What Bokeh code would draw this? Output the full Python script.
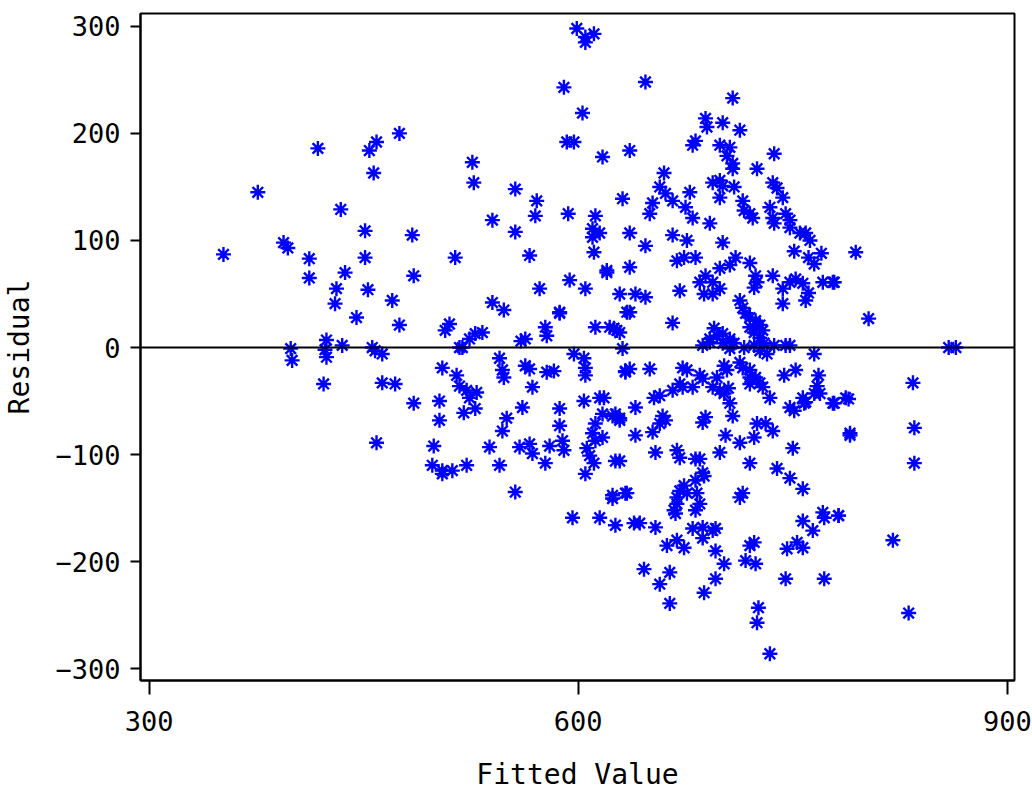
from bokeh.plotting import figure
from bokeh.models import Span, FixedTicker
from bokeh.embed import file_html
from bokeh.resources import INLINE

x_ticks = [300, 600, 900]
x_tick_labels = ["300", "600", "900"]
y_ticks = [-300, -200, -100, 0, 100, 200, 300]
y_tick_labels = ["\u2212300", "\u2212200", "\u2212100", "0", "100", "200", "300"]
x_label = "Fitted Value"
y_label = "Residual"

pts = [
    # left cluster
    (352,87),(376,145),(394,98),(397,93),(399,-1),(400,-12),(412,83),(412,65),(418,186),(424,7),(423,-2),(424,-9),(422,-34),
    (434,129),(437,70),(431,55),(430,41),(451,109),(451,84),(453,54),(470,44),(445,28),(475,21),(454,184),(459,192),(457,163),
    (475,200),(484,105),(485,67),(526,173),(527,154),(514,84),(510,22),(507,16),(524,8),(528,13),(435,2),(456,0),(458,-3),
    (463,-6),(519,0),(505,-19),(459,-89),
    (533,14),(517,0),(563,8),(560,6),(577,19),(578,11),(587,32),(612,19),(625,18),(629,14),(636,33),(463,-33),(472,-34),
    (545,-10),(547,-21),(548,-28),(515,-26),(517,-36),(522,-40),(524,-47),(529,-42),(520,-61),(528,-57),(485,-52),(503,-50),
    (503,-68),(499,-92),(566,-20),(563,-17),(578,-23),(583,-22),(568,-37),(597,-6),(604,-10),(605,-19),(605,-26),(561,-56),
    (587,-57),(604,-50),(615,-47),(633,-23),(550,-66),(587,-73),(624,-64),(629,-66),(612,-71),(610,-80),(612,-87),(617,-84),
    (606,-94),(547,-78),(538,-93),(559,-93),(566,-90),(568,-99),(580,-92),(589,-87),(590,-96),(577,-108),(608,-101),(611,-108),
    (605,-118),(629,-106),(498,-110),(505,-115),(512,-115),(505,-118),(522,-110),(545,-110),(556,-135),(624,-138),(633,-136),
    (603,219),(592,192),(597,192),(617,178),(556,148),(571,137),(570,123),(593,125),(612,123),(610,111),(615,107),(610,103),
    (611,89),(540,119),(556,108),(566,86),(620,70),(594,63),(605,55),(573,55),(540,42),(548,35),(587,33),
    (624,-141),(596,-159),(615,-159),(626,-166),
    # centre
    (674,84),(682,84),(669,81),(636,75),(620,72),(699,74),(706,77),(720,79),(710,84),(689,67),(694,61),(699,55),(724,67),
    (725,61),(723,56),(751,90),(761,84),(765,78),(770,88),(736,67),(748,61),(752,64),(757,60),(743,55),(771,61),(778,61),
    (761,51),(759,44),(743,41),(629,50),(640,50),(647,47),(634,33),(671,53),(685,61),(688,50),(694,50),(713,44),(717,32),
    (720,28),(724,25),(720,19),(727,21),(729,16),(723,14),(727,9),(715,37),(666,23),(622,19),(627,16),(695,18),(697,11),
    (692,8),(701,13),(706,8),(709,4),(701,4),(706,-1),(687,2),(692,5),(716,0),(723,2),(730,4),(727,-3),(732,-6),(737,2),
    (745,2),(748,2),(631,-1),(765,-6),(633,-22),(636,-20),(650,-20),(673,-19),(676,-21),(702,-17),(704,-21),(713,-14),
    (715,-19),(720,-21),(720,-28),(724,-28),(727,-33),(729,-37),(720,-34),(685,-26),(687,-29),(697,-28),(671,-34),(673,-37),
    (666,-40),(680,-37),(694,-37),(699,-40),(702,-43),(705,-38),(744,-26),(752,-21),(768,-26),(767,-36),(765,-43),(769,-43),
    (757,-47),(759,-51),(778,-52),(787,-47),(734,-47),(653,-47),(657,-45),(640,-56),(618,-47),(617,-62),(626,-62),(629,-68),
    (659,-64),(661,-68),(657,-71),(687,-70),(689,-65),(706,-52),(708,-64),(725,-71),(731,-71),(736,-78),(748,-56),(751,-59),
    (758,-52),(790,-80),(640,-82),(652,-79),(703,-82),(713,-89),(723,-84),(750,-94),(654,-98),(669,-96),(671,-103),(682,-104),
    (685,-104),(699,-98),(626,-106),(720,-108),(739,-113),(748,-122),(757,-132),(687,-117),(682,-124),(674,-129),(671,-134),
    (676,-136),(715,-136),(634,-136),
    # lower
    (669,-140),(669,-146),(667,-152),(668,-155),(683,-136),(685,-146),(682,-152),(688,-120),(713,-140),(639,-164),(643,-164),
    (654,-168),(662,-185),(669,-180),(674,-187),(680,-169),(687,-168),(694,-171),(696,-169),(687,-178),(696,-190),(702,-202),
    (720,-185),(723,-182),(717,-199),(724,-202),(646,-207),(664,-210),(657,-221),(696,-216),(664,-239),(688,-229),(745,-216),
    (772,-216),(726,-243),(725,-257),(734,-286),(757,-162),(764,-171),(771,-154),(772,-159),(782,-157),(746,-188),(753,-182),
    (757,-187),(820,-180),
    # upper
    (599,298),(605,290),(611,293),(605,285),(590,243),(647,248),(708,233),(636,184),(689,214),(701,210),(690,206),(713,203),
    (682,193),(680,189),(699,189),(706,187),(704,179),(708,172),(708,167),(725,167),(737,181),(660,163),(657,150),(661,144),
    (666,137),(678,145),(652,135),(699,156),(701,151),(694,154),(709,150),(699,140),(736,154),(739,149),(743,140),(734,131),
    (736,121),(737,116),(745,125),(748,119),(748,112),(755,107),(759,107),(762,100),(631,139),(650,125),(675,131),(680,121),
    (692,116),(701,98),(715,137),(716,128),(720,125),(722,121),(636,107),(647,95),(666,105),(676,100),
    # right edge
    (794,89),(779,61),(803,27),(859,0),(864,0),(834,-33),(789,-48),(779,-52),(835,-75),(790,-82),(835,-108),(782,-157),
    (831,-248),
]
fitted = [p[0] for p in pts]
residual = [p[1] for p in pts]

FONT = "DejaVu Sans Mono"

p = figure(frame_width=874, frame_height=667,
           min_border_left=138, min_border_right=20, min_border_top=13, min_border_bottom=110,
           x_range=(294, 905), y_range=(-311, 312),
           output_backend="svg", toolbar_location=None, background_fill_color="white")

p.scatter(fitted, residual, marker="asterisk", size=15, line_color="#0000FF", line_width=2.4)
p.add_layout(Span(location=0, dimension="width", line_color="black", line_width=2))

p.grid.visible = False
p.outline_line_color = "black"
p.outline_line_width = 2

p.xaxis.ticker = FixedTicker(ticks=x_ticks)
p.yaxis.ticker = FixedTicker(ticks=y_ticks)
p.xaxis.major_label_overrides = dict(zip(x_ticks, x_tick_labels))
p.yaxis.major_label_overrides = dict(zip(y_ticks, y_tick_labels))
for ax in (p.xaxis[0], p.yaxis[0]):
    ax.axis_line_color = "black"
    ax.axis_line_width = 2
    ax.major_tick_line_color = "black"
    ax.major_tick_line_width = 2
    ax.major_tick_in = 0
    ax.minor_tick_line_color = None
    ax.major_label_text_font = FONT
    ax.major_label_text_font_size = "27px"
    ax.major_label_text_color = "black"
    ax.axis_label_text_font = FONT
    ax.axis_label_text_font_size = "28px"
    ax.axis_label_text_font_style = "normal"
    ax.axis_label_text_color = "black"
p.xaxis.major_tick_out = 14
p.yaxis.major_tick_out = 10
p.xaxis.major_label_standoff = 16
p.yaxis.major_label_standoff = 10
p.xaxis.axis_label = x_label
p.yaxis.axis_label = y_label
p.xaxis.axis_label_standoff = 24
p.yaxis.axis_label_standoff = 16

open("out.html", "w").write(file_html(p, INLINE))
